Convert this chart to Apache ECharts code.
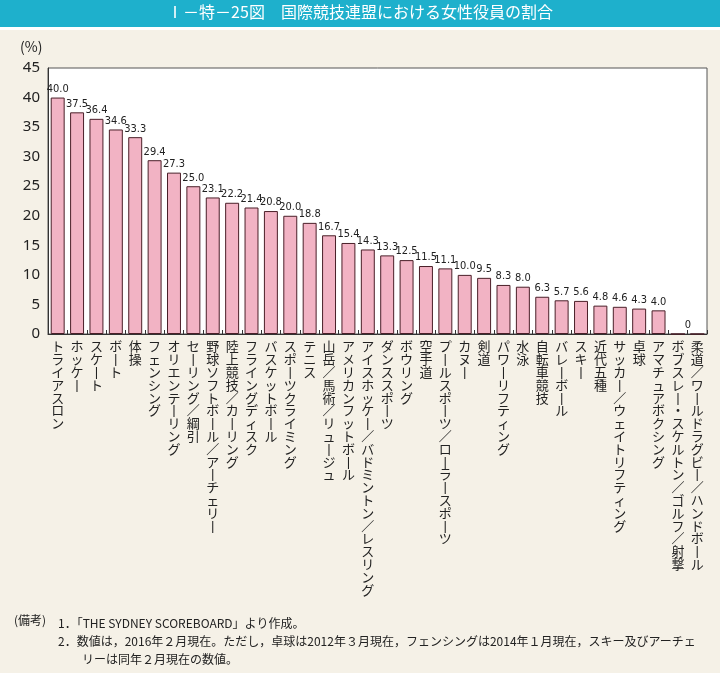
<!DOCTYPE html>
<html><head><meta charset="utf-8">
<script src="https://cdn.jsdelivr.net/npm/echarts@6/dist/echarts.min.js"></script>
<style>html,body{margin:0;padding:0;background:#f5f1e7}#c{width:720px;height:673px}</style>
</head><body><div id="c"></div>
<script>
const titleText = 'Ⅰ－特－25図　国際競技連盟における女性役員の割合';
const categories = ['トライアスロン','ホッケー','スケート','ボート','体操','フェンシング','オリエンテーリング','セーリング／綱引','野球ソフトボール／アーチェリー','陸上競技／カーリング','フライングディスク','バスケットボール','スポーツクライミング','テニス','山岳／馬術／リュージュ','アメリカンフットボール','アイスホッケー／バドミントン／レスリング','ダンススポーツ','ボウリング','空手道','プールスポーツ／ローラースポーツ','カヌー','剣道','パワーリフティング','水泳','自転車競技','バレーボール','スキー','近代五種','サッカー／ウェイトリフティング','卓球','アマチュアボクシング','ボブスレー・スケルトン／ゴルフ／射撃','柔道／ワールドラグビー／ハンドボール'];
const values = [40.0,37.5,36.4,34.6,33.3,29.4,27.3,25.0,23.1,22.2,21.4,20.8,20.0,18.8,16.7,15.4,14.3,13.3,12.5,11.5,11.1,10.0,9.5,8.3,8.0,6.3,5.7,5.6,4.8,4.6,4.3,4.0,0,0];
const yTicks = [0,5,10,15,20,25,30,35,40,45];
const notes = ['1．「THE SYDNEY SCOREBOARD」より作成。','2．数値は，2016年２月現在。ただし，卓球は2012年３月現在，フェンシングは2014年１月現在，スキー及びアーチェ','　　リーは同年２月現在の数値。'];

function vert(s){
  return s.split('').map(ch => ch === 'ー' ? '丨' : ch).join('\n');
}
const zeroIdx = values.length - 2;
const barData = values.map((v,i) => {
  const d = {value: v};
  if (i === zeroIdx) d.label = {show: true, offset: [10, 0]};
  else if (v === 0) d.label = {show: false};
  return d;
});

const chart = echarts.init(document.getElementById('c'));
chart.setOption({
  backgroundColor: '#f5f1e7',
  animation: false,
  graphic: [
    {type:'rect', left:0, top:0, shape:{width:720, height:27}, style:{fill:'#1eb0cc'}},
    {type:'rect', left:0, top:27, shape:{width:720, height:3}, style:{fill:'#ffffff'}},
    {type:'text', left:'center', top:4, style:{text:titleText, fill:'#ffffff', font:'16px "Noto Sans CJK JP"'}},
    {type:'text', left:20, top:40, style:{text:'(%)', fill:'#222', font:'14px "Noto Sans CJK JP"'}},
    {type:'text', left:14, top:614, style:{text:'(備考)', fill:'#222', font:'12px "Noto Sans CJK JP"'}},
    {type:'text', left:58, top:614, style:{text:notes.join('\n'), fill:'#222', font:'12px "Noto Sans CJK JP"', lineHeight:18}}
  ],
  grid: {left:48, right:13, top:68, bottom:339, show:true, backgroundColor:'#ffffff', borderColor:'#555', borderWidth:1},
  xAxis: {
    type:'category', data: categories,
    axisLine:{lineStyle:{color:'#333'}},
    axisTick:{show:true, inside:true, length:4, lineStyle:{color:'#333'}},
    axisLabel:{interval:0, formatter: v => vert(v), color:'#222', fontSize:13, lineHeight:12.8, fontFamily:'Noto Sans CJK JP', verticalAlign:'top', margin:6}
  },
  yAxis: {
    type:'value', min:0, max:45, interval:5,
    axisLine:{show:true, lineStyle:{color:'#333'}},
    axisTick:{show:false},
    splitLine:{show:false},
    axisLabel:{color:'#222', fontSize:15, fontFamily:'Noto Sans', margin:8,
      formatter: v => yTicks.includes(v) ? String(v) : ''}
  },
  series: [{
    type:'bar', data: barData, barCategoryGap:'28%',
    itemStyle:{color:'#f2b3c4', borderColor:'#4a1f28', borderWidth:1},
    label:{show:true, position:'top', distance:3, color:'#222', fontSize:11,
      fontFamily:'"DejaVu Sans Condensed", "Liberation Sans Narrow", sans-serif',
      formatter: p => p.value === 0 ? '0' : p.value.toFixed(1)}
  }]
});
</script></body></html>
